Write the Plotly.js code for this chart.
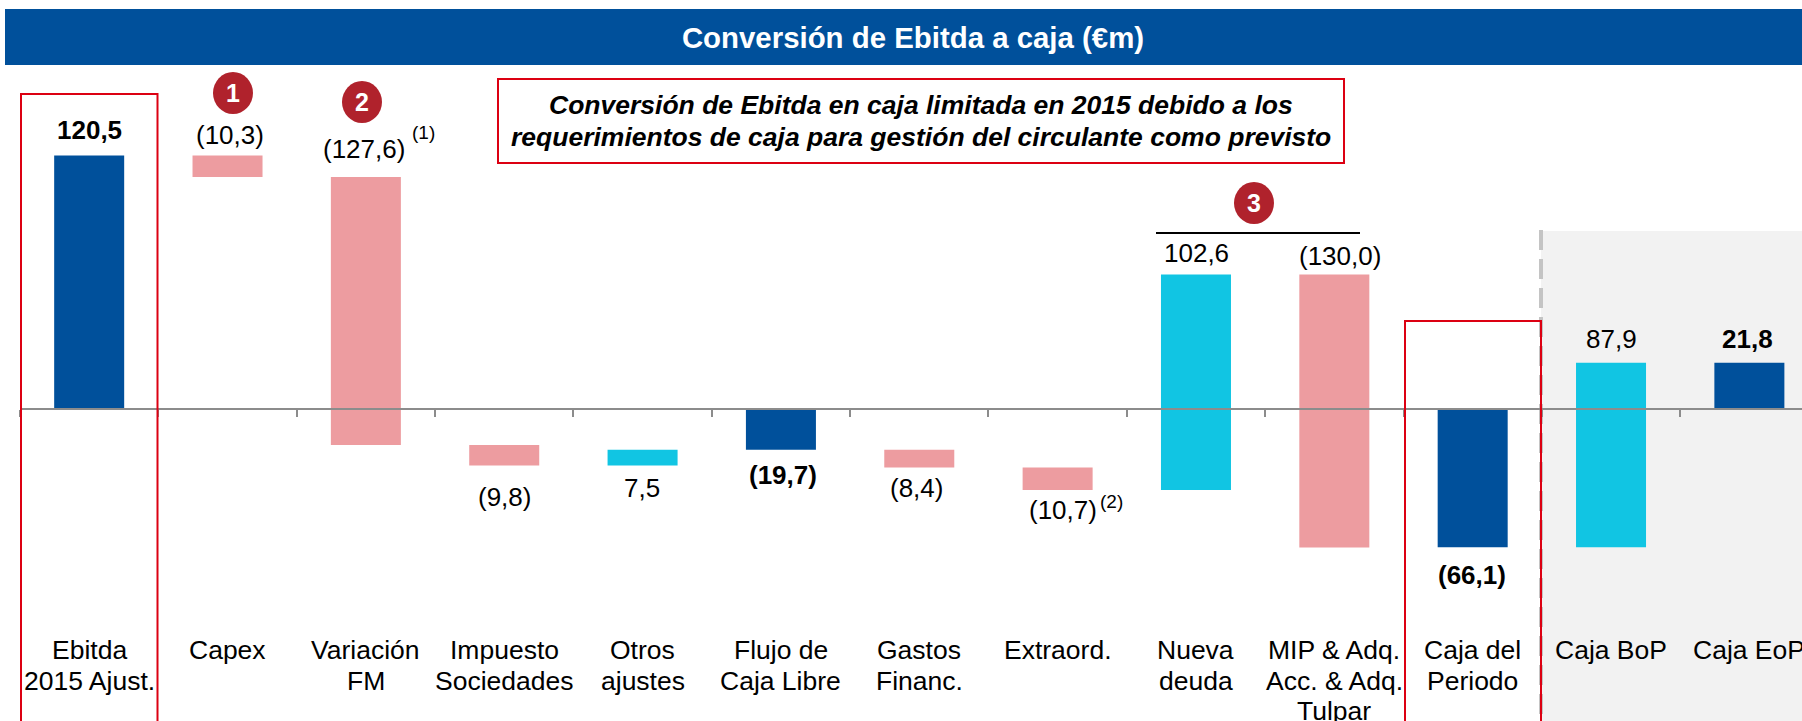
<!DOCTYPE html>
<html><head><meta charset="utf-8">
<script src="https://cdn.plot.ly/plotly-3.0.1.min.js"></script>
<style>html,body{margin:0;padding:0;background:#fff;overflow:hidden}#c{width:1802px;height:721px}</style>
</head><body><div id="c"></div>
<script>
const categories = ["Ebitda<br>2015 Ajust.","Capex","Variación<br>FM","Impuesto<br>Sociedades","Otros<br>ajustes","Flujo de<br>Caja Libre","Gastos<br>Financ.","Extraord.","Nueva<br>deuda","MIP &amp; Adq.<br>Acc. &amp; Adq.<br>Tulpar","Caja del<br>Periodo","Caja BoP","Caja EoP"];
const barStart = [0,120.5,110.2,-17.4,-27.2,0,-19.7,-28.1,-38.8,63.8,0,-66.1,0];
const barEnd   = [120.5,110.2,-17.4,-27.2,-19.7,-19.7,-28.1,-38.8,63.8,-66.2,-66.1,21.8,21.8];
const barColors = ["#00509B","#ED9CA0","#ED9CA0","#ED9CA0","#11C5E3","#00509B","#ED9CA0","#ED9CA0","#11C5E3","#ED9CA0","#00509B","#11C5E3","#00509B"];
const valueLabels = ["<b>120,5</b>","(10,3)","(127,6)","(9,8)","7,5","<b>(19,7)</b>","(8,4)","(10,7)","102,6","(130,0)","<b>(66,1)</b>","87,9","<b>21,8</b>"];
const labelX = [89,230,364,504,642,783,916,1063,1196,1340,1472,1611,1747];
const labelY = [130,135,149,497,488,475,488,510,253,256,575,339,339];
const calloutLines = ["Conversión de Ebitda en caja limitada en 2015 debido a los","requerimientos de caja para gestión del circulante como previsto"];

const W=1802,H=721,L=20,PITCH=138.35,ZERO=408.5,PXU=2.1;
const FONT='"Liberation Sans", Arial, sans-serif';
const px=x=>(x-L)/(W-L), py=y=>1-y/H;
const rect=(x0,y0,x1,y1,o)=>Object.assign({type:'rect',xref:'paper',yref:'paper',x0:px(x0),x1:px(x1),y0:py(y1),y1:py(y0)},o);
const circle=(cx,cy)=>({type:'circle',xref:'paper',yref:'paper',x0:px(cx-20),x1:px(cx+20),y0:py(cy+21),y1:py(cy-21),fillcolor:'#B0222C',line:{width:0},layer:'above'});
const RED='#DC0012';
const shapes=[
 rect(5,9,1802,65,{fillcolor:'#00509B',line:{width:0},layer:'below'}),
 rect(1541,231,1802,721,{fillcolor:'#F2F2F2',line:{width:0},layer:'below'}),
 {type:'line',xref:'paper',yref:'paper',x0:px(1541),x1:px(1541),y0:py(230),y1:py(721),line:{color:'#C4C4C4',width:4,dash:'20px,9px'},layer:'below'},
 rect(21,94,157.5,730,{fillcolor:'rgba(0,0,0,0)',line:{color:RED,width:2},layer:'above'}),
 rect(1405,321,1541,730,{fillcolor:'rgba(0,0,0,0)',line:{color:RED,width:2},layer:'above'}),
 rect(498,79,1344,163,{fillcolor:'#fff',line:{color:RED,width:2},layer:'above'}),
 {type:'line',xref:'paper',yref:'paper',x0:px(1156),x1:px(1360),y0:py(233),y1:py(233),line:{color:'#000',width:2},layer:'above'},
 circle(233,93),circle(362,102),circle(1254,203)
];
const ann=(t,x,y,size,color)=>({text:t,xref:'paper',yref:'paper',x:px(x),y:py(y),xanchor:'center',yanchor:'middle',showarrow:false,font:{family:FONT,size:size,color:color||'#000'}});
const annotations=valueLabels.map((t,i)=>ann(t,labelX[i],labelY[i],26));
annotations.push(
 ann('(1)',423,132,19), ann('(2)',1111,501,19),
 ann('<b>1</b>',233,93,25,'#fff'), ann('<b>2</b>',362,102,25,'#fff'), ann('<b>3</b>',1254,203,25,'#fff'),
 ann('<b><i>'+calloutLines[0]+'</i></b>',921,105,26.5), ann('<b><i>'+calloutLines[1]+'</i></b>',921,137,26.5)
);
categories.forEach((c,i)=>c.split('<br>').forEach((line,k)=>{
  annotations.push({text:line,xref:'x',yref:'paper',x:i,y:py(650+30.5*k),xanchor:'center',yanchor:'middle',showarrow:false,font:{family:FONT,size:26.5,color:'#000'}});
}));
const trace={type:'bar',x:categories,y:barEnd.map((e,i)=>e-barStart[i]),base:barStart,marker:{color:barColors,line:{width:0}},hoverinfo:'skip'};
const layout={
 width:W,height:H,margin:{l:L,r:0,t:0,b:0,pad:0},paper_bgcolor:'#fff',plot_bgcolor:'rgba(0,0,0,0)',showlegend:false,bargap:0.494,
 title:{text:'<b>Conversión de Ebitda a caja (€m)</b>',x:913/W,y:1-38/H,xanchor:'center',yanchor:'middle',xref:'container',yref:'container',font:{family:FONT,size:29.4,color:'#fff'}},
 xaxis:{type:'category',range:[-0.5,-0.5+(W-L)/PITCH],anchor:'free',position:py(ZERO),tickson:'boundaries',ticks:'outside',ticklen:7,tickwidth:2,tickcolor:'#8C8C8C',showline:true,linecolor:'#8C8C8C',linewidth:2,showgrid:false,zeroline:false,showticklabels:false,fixedrange:true},
 yaxis:{visible:false,range:[-(H-ZERO)/PXU,ZERO/PXU],domain:[0,1],showgrid:false,zeroline:false,fixedrange:true},
 shapes,annotations
};
Plotly.newPlot('c',[trace],layout,{displayModeBar:false,staticPlot:true});
</script></body></html>
